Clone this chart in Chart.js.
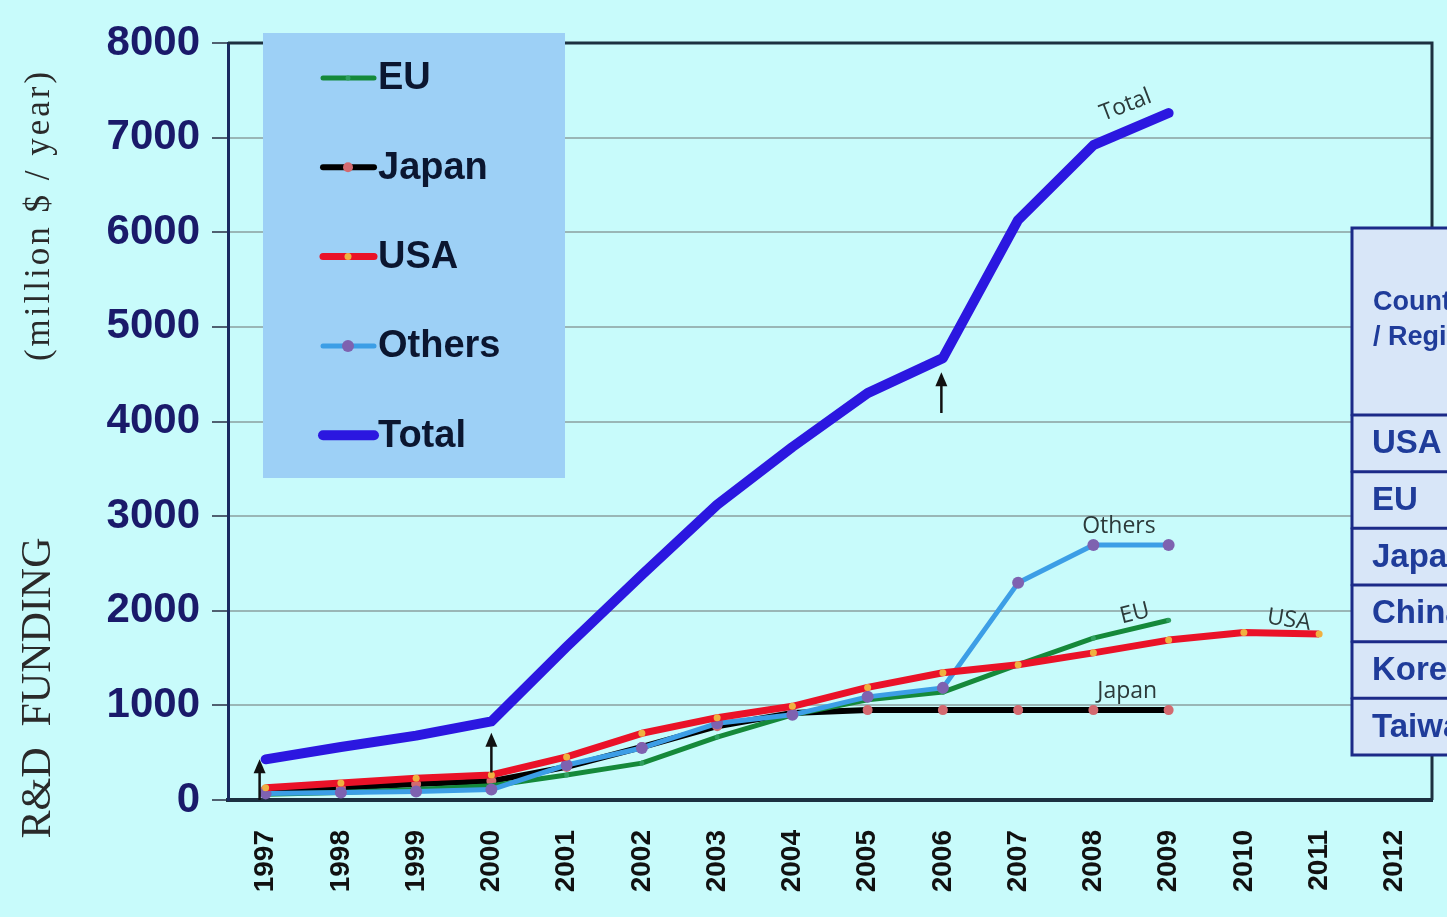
<!DOCTYPE html>
<html><head><meta charset="utf-8">
<script src="https://cdn.jsdelivr.net/npm/chart.js@4.4.1/dist/chart.umd.min.js"></script>
<style>html,body{margin:0;padding:0;background:#c8fbfb;overflow:hidden}canvas{display:block}</style>
</head><body>
<canvas id="c" width="1447" height="917"></canvas>
<script>
// ---- data ----
const years  = ['1997','1998','1999','2000','2001','2002','2003','2004','2005','2006','2007','2008','2009','2010','2011','2012'];
const eu     = [60, 80, 110, 150, 265, 390, 665, 900, 1060, 1140, 1430, 1710, 1900, null, null, null];
const japan  = [110, 130, 170, 200, 350, 560, 780, 920, 950, 950, 950, 950, 950, null, null, null];
const usa    = [130, 180, 230, 265, 455, 705, 870, 990, 1190, 1345, 1430, 1555, 1690, 1770, 1755, null];
const others = [70, 80, 90, 110, 370, 550, 810, 900, 1090, 1185, 2295, 2695, 2695, null, null, null];
const total  = [430, 560, 680, 830, 1620, 2380, 3120, 3730, 4300, 4670, 6130, 6920, 7260, null, null, null];
const yTicks = [0, 1000, 2000, 3000, 4000, 5000, 6000, 7000, 8000];
const yTitleMain = 'R&D  FUNDING';
const yTitleUnit = '(million $ / year)';
const tableHeader = ['Country', '/ Region'];
const tableRows = ['USA', 'EU', 'Japan', 'China', 'Korea', 'Taiwan'];
// in-chart series labels: [text, category position, value, rotation deg]
const seriesLabels = [
  ['Total', 11.43, 7340, -21],
  ['Others', 11.34, 2890, 0],
  ['EU', 11.55, 1970, -14],
  ['USA', 13.6, 1900, 9],
  ['Japan', 11.45, 1150, 0]
];
// arrows: [category position, from value, to value]
const arrows = [
  [-0.08, 0, 430],
  [3.0, 290, 710],
  [8.98, 4090, 4520]
];

const FONT = '"Liberation Sans", Arial, sans-serif';

const bgPlugin = {
  id: 'bg',
  beforeDraw(chart) {
    const ctx = chart.ctx;
    ctx.save();
    ctx.fillStyle = '#c8fbfb';
    ctx.fillRect(0, 0, chart.width, chart.height);
    ctx.restore();
  }
};

const framePlugin = {
  id: 'frame',
  beforeDatasetsDraw(chart) {
    const {ctx, chartArea: a} = chart;
    ctx.save();
    ctx.strokeStyle = '#1d3040';
    ctx.lineWidth = 3;
    ctx.beginPath();
    ctx.moveTo(a.left, a.top);
    ctx.lineTo(a.right, a.top);
    ctx.lineTo(a.right, a.bottom);
    ctx.stroke();
    ctx.restore();
  }
};

const overlayPlugin = {
  id: 'overlay',
  afterDraw(chart) {
    const ctx = chart.ctx;
    const xs = chart.scales.x, ys = chart.scales.y;
    ctx.save();

    // Y titles
    ctx.fillStyle = '#2a2a2a';
    ctx.textAlign = 'center';
    ctx.textBaseline = 'alphabetic';
    ctx.save();
    ctx.translate(50, 688);
    ctx.rotate(-Math.PI / 2);
    ctx.font = '42px "Liberation Serif", "Times New Roman", serif';
    ctx.fillText(yTitleMain, 0, 0);
    ctx.restore();
    ctx.save();
    ctx.translate(49, 215);
    ctx.rotate(-Math.PI / 2);
    ctx.font = '35px "Liberation Serif", "Times New Roman", serif';
    ctx.letterSpacing = '3px';
    ctx.fillText(yTitleUnit, 0, 0);
    ctx.restore();

    // arrows
    ctx.strokeStyle = '#111';
    ctx.fillStyle = '#111';
    ctx.lineWidth = 2.5;
    arrows.forEach(([p, v0, v1]) => {
      const x = xs.getPixelForValue(p);
      const y0 = ys.getPixelForValue(v0), y1 = ys.getPixelForValue(v1);
      ctx.beginPath();
      ctx.moveTo(x, y0);
      ctx.lineTo(x, y1 + 10);
      ctx.stroke();
      ctx.beginPath();
      ctx.moveTo(x, y1);
      ctx.lineTo(x - 6, y1 + 14);
      ctx.lineTo(x + 6, y1 + 14);
      ctx.closePath();
      ctx.fill();
    });

    // series labels
    ctx.fillStyle = '#2c3a3a';
    ctx.font = '500 23px "Open Sans", sans-serif';
    ctx.textAlign = 'center';
    ctx.textBaseline = 'middle';
    seriesLabels.forEach(([t, p, v, r]) => {
      ctx.save();
      ctx.translate(xs.getPixelForValue(p), ys.getPixelForValue(v));
      ctx.rotate(r * Math.PI / 180);
      ctx.fillText(t, 0, 0);
      ctx.restore();
    });

    // legend
    ctx.fillStyle = '#9dd0f6';
    ctx.fillRect(263, 33, 302, 445);
    chart.data.datasets.forEach((ds, i) => {
      const y = 78 + i * 89.3;
      ctx.strokeStyle = ds.borderColor;
      ctx.lineWidth = ds.borderWidth;
      ctx.lineCap = 'round';
      ctx.beginPath();
      ctx.moveTo(323, y);
      ctx.lineTo(374, y);
      ctx.stroke();
      if (ds.pointRadius > 0) {
        ctx.fillStyle = ds.pointBackgroundColor;
        ctx.beginPath();
        ctx.arc(348, y, ds.pointRadius, 0, Math.PI * 2);
        ctx.fill();
      }
      ctx.fillStyle = '#0b1630';
      ctx.font = 'bold 38px ' + FONT;
      ctx.textAlign = 'left';
      ctx.textBaseline = 'middle';
      ctx.fillText(ds.label, 378, y + 1);
    });

    // table
    const tx = 1352, ty = 228, tb = 755, hb = 415;
    const rowH = (tb - hb) / tableRows.length;
    ctx.fillStyle = '#d8e6f8';
    ctx.fillRect(tx, ty, 200, tb - ty);
    ctx.strokeStyle = '#1c2a88';
    ctx.lineWidth = 3;
    ctx.strokeRect(tx, ty, 200, tb - ty);
    ctx.beginPath();
    ctx.moveTo(tx, hb); ctx.lineTo(tx + 200, hb);
    for (let i = 1; i < tableRows.length; i++) {
      ctx.moveTo(tx, hb + i * rowH); ctx.lineTo(tx + 200, hb + i * rowH);
    }
    ctx.stroke();
    ctx.fillStyle = '#1f3c9a';
    ctx.textAlign = 'left';
    ctx.textBaseline = 'middle';
    ctx.font = 'bold 27px ' + FONT;
    ctx.fillText(tableHeader[0], 1373, 303);
    ctx.fillText(tableHeader[1], 1373, 338);
    ctx.font = 'bold 33px ' + FONT;
    tableRows.forEach((t, i) => ctx.fillText(t, 1372, hb + (i + 0.5) * rowH + 1));

    ctx.restore();
  }
};

new Chart(document.getElementById('c'), {
  type: 'line',
  data: {
    labels: years,
    datasets: [
      { label: 'EU', data: eu, borderColor: '#15893a', borderWidth: 5, pointRadius: 2.5,
        pointBackgroundColor: '#2fa060', pointBorderWidth: 0, order: 4 },
      { label: 'Japan', data: japan, borderColor: '#000000', borderWidth: 6, pointRadius: 5,
        pointBackgroundColor: '#d36a70', pointBorderWidth: 0, order: 5 },
      { label: 'USA', data: usa, borderColor: '#ea1228', borderWidth: 7, pointRadius: 3.5,
        pointBackgroundColor: '#f0b040', pointBorderWidth: 0, order: 2 },
      { label: 'Others', data: others, borderColor: '#3c9ee6', borderWidth: 5, pointRadius: 6,
        pointBackgroundColor: '#7e62b0', pointBorderWidth: 0, order: 3 },
      { label: 'Total', data: total, borderColor: '#2b17e0', borderWidth: 10, pointRadius: 0,
        order: 1, borderJoinStyle: 'round', borderCapStyle: 'round' }
    ]
  },
  options: {
    responsive: false,
    animation: false,
    devicePixelRatio: 1,
    layout: { padding: { top: 43, right: 15, left: 0, bottom: 0 } },
    plugins: { legend: { display: false }, tooltip: { enabled: false } },
    elements: { line: { tension: 0, borderJoinStyle: 'round' } },
    scales: {
      x: {
        type: 'category',
        offset: true,
        grid: { display: false, drawTicks: false },
        border: { display: true, color: '#1d3040', width: 4 },
        ticks: { minRotation: 90, maxRotation: 90, autoSkip: false, padding: 30,
          color: '#111111', font: { family: FONT, size: 28, weight: 'bold' } },
        afterFit(s) { s.height = 117; s.paddingLeft = 0; s.paddingRight = 0; }
      },
      y: {
        min: 0, max: 8000,
        afterBuildTicks(s) { s.ticks = yTicks.map(v => ({ value: v })); },
        grid: { color: '#9ab6b6', lineWidth: 2, tickLength: 16, tickColor: '#506070', tickWidth: 2 },
        border: { display: true, color: '#1a2a60', width: 3 },
        ticks: { padding: 12, color: '#1a1a6a', font: { family: FONT, size: 42, weight: 'bold' },
          callback: v => String(v) },
        afterFit(s) { s.width = 228; s.paddingTop = 0; s.paddingBottom = 0; }
      }
    }
  },
  plugins: [bgPlugin, framePlugin, overlayPlugin]
});
</script>
</body></html>
